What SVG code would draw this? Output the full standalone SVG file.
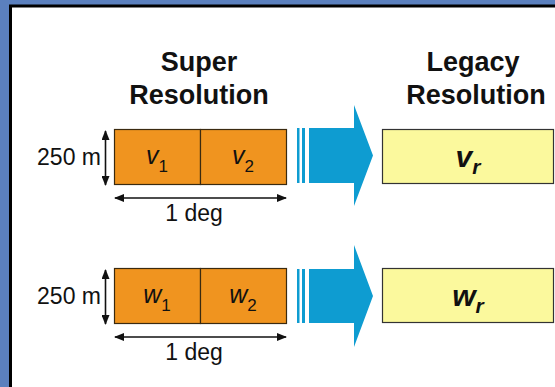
<svg xmlns="http://www.w3.org/2000/svg" width="555" height="387" viewBox="0 0 555 387">
<style>
.t{font-family:"Liberation Sans",Arial,sans-serif;fill:#111;}
.title{font-size:27px;font-weight:bold;text-anchor:middle;}
.dim{font-size:23px;}
.var{font-size:25px;font-style:italic;text-anchor:middle;}
.sub{font-size:17px;font-style:normal;}
.big{font-size:30px;font-weight:bold;font-style:italic;text-anchor:middle;}
.bsub{font-size:21px;font-weight:bold;font-style:italic;}
.cell{fill:#f0941f;stroke:#3a2a10;stroke-width:1.2;}
.leg{fill:#fbf99d;stroke:#333;stroke-width:1.2;}
.dl{stroke:#111;stroke-width:1.6;fill:none;}
.blue{fill:#0e9cd1;}
</style>
<defs>
<marker id="ah" viewBox="0 0 10 8" refX="9" refY="4" markerWidth="10" markerHeight="8" markerUnits="userSpaceOnUse" orient="auto-start-reverse">
<path d="M0,0 L10,4 L0,8 z" fill="#111"/>
</marker>
</defs>
<rect x="0" y="0" width="555" height="387" fill="#5b80be"/>
<rect x="10.5" y="6" width="560" height="400" fill="#fff" stroke="#000" stroke-width="3"/>
<g id="titles">
<text class="t title" x="199" y="71">Super</text>
<text class="t title" x="199" y="104">Resolution</text>
<text class="t title" x="473" y="71">Legacy</text>
<text class="t title" x="476" y="104">Resolution</text>
</g>
<g id="node-v-super">
<rect class="cell" x="114.5" y="129.5" width="86" height="55"/>
<rect class="cell" x="200.5" y="129.5" width="86" height="55"/>
<text class="t var" x="157" y="164">v<tspan class="sub" dy="8">1</tspan></text>
<text class="t var" x="243" y="164">v<tspan class="sub" dy="8">2</tspan></text>
<text class="t dim" x="101" y="165" text-anchor="end">250 m</text>
<text class="t dim" x="194" y="221" text-anchor="middle">1 deg</text>
</g>
<g id="node-w-super">
<rect class="cell" x="114.5" y="268.5" width="86" height="55"/>
<rect class="cell" x="200.5" y="268.5" width="86" height="55"/>
<text class="t var" x="157" y="303">w<tspan class="sub" dy="8">1</tspan></text>
<text class="t var" x="243" y="303">w<tspan class="sub" dy="8">2</tspan></text>
<text class="t dim" x="101" y="304" text-anchor="end">250 m</text>
<text class="t dim" x="194" y="360" text-anchor="middle">1 deg</text>
</g>
<g id="node-v-legacy">
<rect class="leg" x="382.5" y="129.5" width="171" height="54"/>
<text class="t big" x="468" y="167">v<tspan class="bsub" dy="7">r</tspan></text>
</g>
<g id="node-w-legacy">
<rect class="leg" x="382.5" y="268.5" width="171" height="54"/>
<text class="t big" x="468" y="306">w<tspan class="bsub" dy="7">r</tspan></text>
</g>
<g id="connectors">
<line class="dl" x1="105.5" y1="131" x2="105.5" y2="185" marker-start="url(#ah)" marker-end="url(#ah)"/>
<line class="dl" x1="115" y1="198" x2="286" y2="198" marker-start="url(#ah)" marker-end="url(#ah)"/>
<line class="dl" x1="105.5" y1="270" x2="105.5" y2="324" marker-start="url(#ah)" marker-end="url(#ah)"/>
<line class="dl" x1="115" y1="337" x2="286" y2="337" marker-start="url(#ah)" marker-end="url(#ah)"/>
<g class="blue">
<rect x="297" y="128" width="2.5" height="55"/>
<rect x="302" y="128" width="3" height="55"/>
<path d="M309,128 L354,128 L354,105 L373,155.5 L354,206 L354,183 L309,183 z"/>
<rect x="297" y="269" width="2.5" height="54"/>
<rect x="302" y="269" width="3" height="54"/>
<path d="M309,269 L354,269 L354,245 L373,296 L354,347 L354,323 L309,323 z"/>
</g>
</g>
</svg>
